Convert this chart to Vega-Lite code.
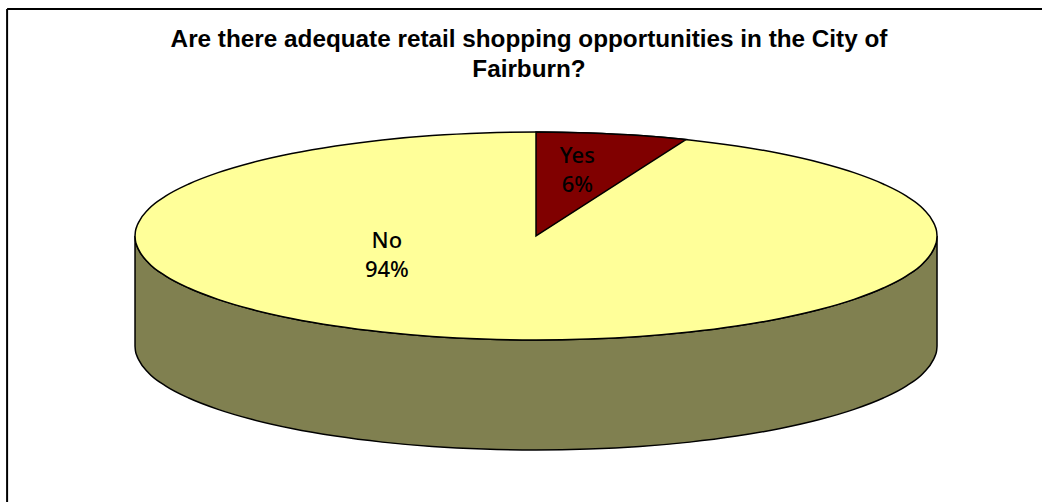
{"$schema":"https://vega.github.io/schema/vega-lite/v6.json","width":1042,"height":502,"autosize":"none","padding":0,"background":"white","config":{"view":{"stroke":null}},"title":{"text":["Are there adequate retail shopping opportunities in the City of","Fairburn?"],"font":"Liberation Sans","fontSize":24.3,"fontWeight":"bold","color":"#000000","anchor":"middle","dx":8,"offset":-101,"lineHeight":30,"baseline":"alphabetic"},"datasets":{"pie":[{"x":-100,"top":0,"bottom":0,"base":-105.8},{"x":-99.9,"top":4.4,"bottom":-4.4,"base":-110.2},{"x":-99.6,"top":8.7,"bottom":-8.7,"base":-114.5},{"x":-99.1,"top":13.1,"bottom":-13.1,"base":-118.9},{"x":-96.6,"top":25.9,"bottom":-25.9,"base":-131.7},{"x":-92.4,"top":38.3,"bottom":-38.3,"base":-144.1},{"x":-86.6,"top":50,"bottom":-50,"base":-155.8},{"x":-79.3,"top":60.9,"bottom":-60.9,"base":-166.7},{"x":-70.7,"top":70.7,"bottom":-70.7,"base":-176.5},{"x":-60.9,"top":79.3,"bottom":-79.3,"base":-185.1},{"x":-50,"top":86.6,"bottom":-86.6,"base":-192.4},{"x":-38.3,"top":92.4,"bottom":-92.4,"base":-198.2},{"x":-25.9,"top":96.6,"bottom":-96.6,"base":-202.4},{"x":-13.1,"top":99.1,"bottom":-99.1,"base":-204.9},{"x":0,"top":100,"bottom":-100,"base":-205.8},{"x":13.1,"top":99.1,"bottom":-99.1,"base":-204.9},{"x":25.9,"top":96.6,"bottom":-96.6,"base":-202.4},{"x":38.3,"top":92.4,"bottom":-92.4,"base":-198.2},{"x":50,"top":86.6,"bottom":-86.6,"base":-192.4},{"x":60.9,"top":79.3,"bottom":-79.3,"base":-185.1},{"x":70.7,"top":70.7,"bottom":-70.7,"base":-176.5},{"x":79.3,"top":60.9,"bottom":-60.9,"base":-166.7},{"x":86.6,"top":50,"bottom":-50,"base":-155.8},{"x":92.4,"top":38.3,"bottom":-38.3,"base":-144.1},{"x":96.6,"top":25.9,"bottom":-25.9,"base":-131.7},{"x":99.1,"top":13.1,"bottom":-13.1,"base":-118.9},{"x":99.6,"top":8.7,"bottom":-8.7,"base":-114.5},{"x":99.9,"top":4.4,"bottom":-4.4,"base":-110.2},{"x":100,"top":0,"bottom":0,"base":-105.8}],"yes":[{"x":0,"top":100,"edge":0},{"x":13.1,"top":99.1,"edge":32.5},{"x":25.9,"top":96.6,"edge":64.2},{"x":37.4,"top":92.7,"edge":92.7}],"labels":[{"answer":"Yes","share":"6%","x":10.3,"y":77.0},{"answer":"No","share":"94%","x":-37.2,"y":-4.8}],"frame":[{"left":-131.9,"right":126.18,"top":218.3,"bottom":-255.77}]},"encoding":{"x":{"field":"x","type":"quantitative","scale":{"domain":[-133.67,126.18],"nice":false,"zero":false},"axis":null}},"layer":[{"data":{"name":"pie"},"mark":{"type":"area","orient":"vertical","interpolate":"monotone","fill":"#808050","stroke":"#000000","strokeWidth":1.5},"encoding":{"y":{"field":"bottom","type":"quantitative","scale":{"domain":[-255.77,226.92],"nice":false,"zero":false},"axis":null},"y2":{"field":"base"}}},{"data":{"name":"pie"},"mark":{"type":"area","orient":"vertical","interpolate":"monotone","fill":"#FFFF99","stroke":"#000000","strokeWidth":1.5},"encoding":{"y":{"field":"top","type":"quantitative","axis":null},"y2":{"field":"bottom"}}},{"data":{"name":"yes"},"mark":{"type":"area","orient":"vertical","interpolate":"monotone","fill":"#800000","stroke":"#000000","strokeWidth":1.5},"encoding":{"y":{"field":"top","type":"quantitative","axis":null},"y2":{"field":"edge"}}},{"data":{"name":"labels"},"transform":[{"calculate":"[datum.answer, datum.share]","as":"lines"}],"mark":{"type":"text","font":"Noto Sans","fontSize":22,"fontWeight":500,"lineHeight":29,"align":"center","baseline":"middle","color":"#000000"},"encoding":{"y":{"field":"y","type":"quantitative","axis":null},"text":{"field":"lines"}}},{"data":{"name":"frame"},"mark":{"type":"rule","stroke":"#000000","strokeWidth":2},"encoding":{"x":{"field":"left","type":"quantitative"},"y":{"field":"top","type":"quantitative"},"y2":{"field":"bottom"}}},{"data":{"name":"frame"},"mark":{"type":"rule","stroke":"#000000","strokeWidth":2},"encoding":{"x":{"field":"left","type":"quantitative"},"x2":{"field":"right"},"y":{"field":"top","type":"quantitative"}}}]}
